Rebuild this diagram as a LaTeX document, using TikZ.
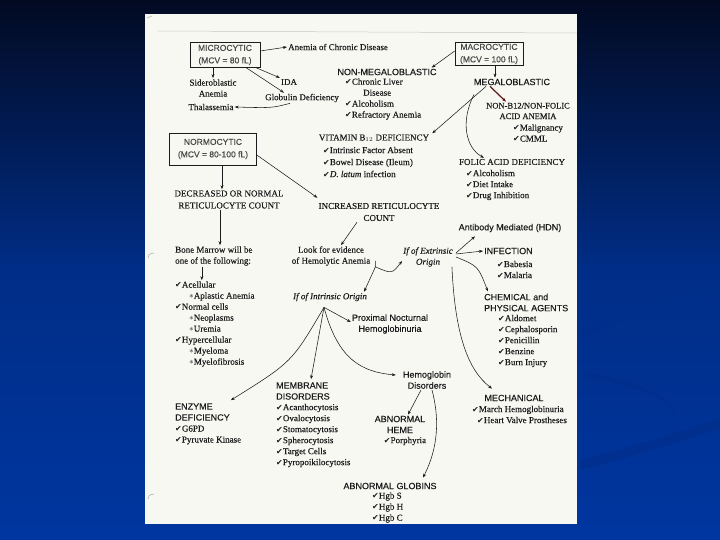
\documentclass[tikz,border=0pt]{standalone}
\usepackage{fontspec}
\setmainfont{Liberation Serif}[FakeBold=0.3]
\setsansfont{Liberation Sans}[FakeBold=0.2]
\newfontfamily\symfont{DejaVu Sans}
\usetikzlibrary{arrows.meta}
\definecolor{ink}{HTML}{1C1C1C}
\definecolor{paper}{HTML}{F8F8F3}
\definecolor{navytop}{HTML}{020A22}
\definecolor{navybot}{HTML}{0036A0}
\definecolor{swoosh}{HTML}{002E8C}
\definecolor{darkred}{HTML}{5A1616}
\newcommand{\ck}{{\symfont\fontsize{8}{11}\selectfont ✔}}
\newcommand{\st}{\hspace*{14pt}$\ast$}

\begin{document}
\begin{tikzpicture}[x=1pt,y=-1pt,>={Stealth[length=4pt,width=3pt]},
  txt/.style={font=\fontsize{9}{11}\selectfont,text=ink,inner sep=1pt,align=center},
  capt/.style={font=\fontsize{9}{12}\selectfont,text=ink,inner sep=1pt,align=center},
  hd/.style={font=\sffamily\fontsize{9}{11}\selectfont,text=ink,inner sep=1pt,align=center},
  lst/.style={txt,align=left,anchor=west},
  mcv/.style={draw=ink,line width=0.6pt,inner sep=1pt,align=center,
    font=\sffamily\fontsize{8.5}{12.5}\selectfont,text=ink!80},
  arr/.style={->,line width=0.55pt,draw=ink}]
\useasboundingbox (0,0) rectangle (720,540);
% fond de la diapositive
\shade[top color=navytop,bottom color=navybot,middle color=navybot!80!navytop] (0,0) rectangle (720,540);
\fill[swoosh,opacity=0.7] (580,330) .. controls (640,300) and (690,295) .. (720,290)
  -- (720,296) .. controls (690,302) and (640,310) .. (580,340) -- cycle;
\fill[swoosh,opacity=0.7] (585,372) .. controls (640,380) and (680,400) .. (675,418)
  .. controls (670,395) and (630,385) .. (585,378) -- cycle;
\fill[swoosh,opacity=0.7] (580,460) .. controls (640,445) and (690,428) .. (720,418)
  -- (720,428) .. controls (690,438) and (640,455) .. (580,470) -- cycle;
% feuille scannée
\fill[paper] (145,14) rectangle (577,524);
\draw[gray!45,line width=0.5pt] (158,31) -- (577,33);
\draw[gray!60,line width=0.6pt] (147,18) -- (152,16);
\draw[gray!60,line width=0.6pt] (148,258) .. controls (149,254) .. (154,253);
\draw[gray!60,line width=0.6pt] (148,499) .. controls (149,495) .. (154,494);

% microcytaire
\node[mcv,minimum width=70pt,minimum height=25pt] (micro) at (225,55) {MICROCYTIC\\(MCV = 80 fL)};
\node[txt,anchor=west] (acd) at (287,47) {Anemia of Chronic Disease};
\node[txt] (sidero) at (213,88) {Sideroblastic\\Anemia};
\node[txt] (ida) at (289,82) {IDA};
\node[txt] (globulin) at (302,98) {Globulin Deficiency};
\node[txt] (thal) at (211,107) {Thalassemia};
\draw[arr] ([yshift=4pt]micro.east) -- (acd.west);
\draw[arr] (micro.south -| sidero.north) -- (sidero.north);
\draw[arr] ([xshift=-4pt]micro.south east) -- (ida.north west);
\draw[arr] ([xshift=-14pt]micro.south east) -- ([xshift=20pt]globulin.north west);
\draw[arr] ([xshift=-12pt]globulin.south) .. controls (272,108) .. (thal.east);

% macrocytaire
\node[mcv,minimum width=68pt,minimum height=23pt] (macro) at (489,54) {MACROCYTIC\\(MCV = 100 fL)};
\node[hd] (nonmeg) at (387,72) {NON-MEGALOBLASTIC};
\node[lst] (nonmeglist) at (344,99) {\ck Chronic Liver\\\hspace*{18pt}Disease\\\ck Alcoholism\\\ck Refractory Anemia};
\node[hd] (megalo) at (512,82) {MEGALOBLASTIC};
\node[capt,font=\fontsize{8.5}{10.5}\selectfont] (nonb12) at (528,111) {NON-B12/NON-FOLIC\\ACID ANEMIA};
\node[lst] (nonb12list) at (512,133) {\ck Malignancy\\\ck CMML};
\node[capt] (vitb12) at (374,138) {VITAMIN B$_{12}$ DEFICIENCY};
\node[lst,font=\fontsize{9}{12}\selectfont] (vitlist) at (322,162) {\ck Intrinsic Factor Absent\\\ck Bowel Disease (Ileum)\\\ck \textit{D. latum} infection};
\node[capt] (folic) at (512,162) {FOLIC ACID DEFICIENCY};
\node[lst] (foliclist) at (465,185) {\ck Alcoholism\\\ck Diet Intake\\\ck Drug Inhibition};
\draw[arr] ([yshift=3pt]macro.west) -- ([xshift=-6pt]nonmeg.north east);
\draw[arr] ([xshift=6pt]macro.south) -- ([xshift=-17pt]megalo.north);
\draw[->,line width=1.2pt,darkred] ([xshift=-22pt]megalo.south) -- ([xshift=-22pt]nonb12.north);
\draw[arr] ([xshift=-26pt]megalo.south) -- ([xshift=2pt]vitb12.north east);
\draw[arr] ([xshift=-38pt,yshift=-8pt]megalo.south) .. controls (460,122) and (466,148) .. ([xshift=-28pt]folic.north);

% normocytaire
\node[mcv,minimum width=87pt,minimum height=32pt] (normo) at (213,149) {NORMOCYTIC\\(MCV = 80-100 fL)};
\node[capt] (decr) at (229,199.5) {DECREASED OR NORMAL\\RETICULOCYTE COUNT};
\node[capt] (incr) at (379,212) {INCREASED RETICULOCYTE\\COUNT};
\node[txt,align=left,anchor=west] (bone) at (174,256) {Bone Marrow will be\\one of the following:};
\node[lst] (bonelist) at (174,324) {\ck Acellular\\\st Aplastic Anemia\\\ck Normal cells\\\st Neoplasms\\\st Uremia\\\ck Hypercellular\\\st Myeloma\\\st Myelofibrosis};
\draw[arr] ([xshift=9pt]normo.south) -- ([xshift=-7pt]decr.north);
\draw[arr] ([yshift=-6pt]normo.east) -- ([yshift=4pt]incr.north west);
\draw[arr] ([xshift=-9pt]decr.south) -- ([xshift=-9pt]decr.south |- bone.north);
\draw[arr] ([xshift=-12pt]bone.south) -- ([xshift=-12pt]bone.south |- bonelist.north);

% hémolyse
\node[txt] (look) at (331,256) {Look for evidence\\of Hemolytic Anemia};
\node[txt,font=\itshape\fontsize{9}{11}\selectfont] (extr) at (428,257) {If of Extrinsic\\Origin};
\node[txt,font=\itshape\fontsize{9}{11}\selectfont] (intr) at (330,297) {If of Intrinsic Origin};
\coordinate (split) at ([xshift=4pt]look.south east);
\coordinate (hub) at ([xshift=-6pt,yshift=-5pt]intr.south);
\draw[arr] ([xshift=-22pt]incr.south) -- ([xshift=10pt]look.north);
\draw[arr] ([yshift=6pt]split) -- (split) .. controls (392,274) .. ([yshift=-4pt]extr.west);
\draw[arr] (split) -- ([xshift=-4pt]intr.north east);

% origine intrinsèque
\node[hd] (pnh) at (390,324) {Proximal Nocturnal\\Hemoglobinuria};
\node[hd,align=left,anchor=west] (enzyme) at (174,412) {ENZYME\\DEFICIENCY};
\node[lst] (enzlist) at (174,435) {\ck G6PD\\\ck Pyruvate Kinase};
\node[hd,align=left,anchor=west] (membrane) at (275,391) {MEMBRANE\\DISORDERS};
\node[lst] (memlist) at (275,435.5) {\ck Acanthocytosis\\\ck Ovalocytosis\\\ck Stomatocytosis\\\ck Spherocytosis\\\ck Target Cells\\\ck Pyropoikilocytosis};
\node[hd] (hgb) at (427,380) {Hemoglobin\\Disorders};
\node[hd] (heme) at (400,424.5) {ABNORMAL\\HEME};
\node[txt] (hemelist) at (405,441) {\ck Porphyria};
\node[hd] (globins) at (390,486) {ABNORMAL GLOBINS};
\node[lst] (globlist) at (371,507.5) {\ck Hgb S\\\ck Hgb H\\\ck Hgb C};
\draw[arr] (hub) .. controls (336,314) .. ([yshift=2pt]pnh.west);
\draw[arr] (hub) .. controls (292,362) .. ([yshift=2pt]enzyme.north east);
\draw[arr] (hub) -- ([xshift=36pt,yshift=2pt]membrane.north west);
\draw[arr] (hub) .. controls (338,360) and (362,372) .. ([xshift=-6pt,yshift=5pt]hgb.west);
\draw[arr] ([xshift=-6pt]hgb.south) -- ([xshift=8pt]heme.north);
\draw[arr] ([xshift=5pt]hgb.south) .. controls (442,428) and (434,456) .. ([xshift=33pt,yshift=4pt]globins.north);

% origine extrinsèque
\node[hd] (antibody) at (510,228) {Antibody Mediated (HDN)};
\node[hd,anchor=west] (infection) at (483,251) {INFECTION};
\node[lst] (inflist) at (496,269.5) {\ck Babesia\\\ck Malaria};
\node[hd,align=left,anchor=west] (chem) at (483,302.5) {CHEMICAL and\\PHYSICAL AGENTS};
\node[lst] (chemlist) at (497,341) {\ck Aldomet\\\ck Cephalosporin\\\ck Penicillin\\\ck Benzine\\\ck Burn Injury};
\node[hd] (mech) at (514,398) {MECHANICAL};
\node[lst] (mechlist) at (471,414.5) {\ck March Hemoglobinuria\\\hspace*{5pt}\ck Heart Valve Prostheses};
\draw[arr] ([xshift=2pt,yshift=4pt]extr.east) -- ([xshift=-35pt,yshift=-3pt]antibody.south);
\draw[arr] ([xshift=2pt,yshift=3pt]extr.east) -- (infection.west);
\draw[arr] ([xshift=2pt]extr.east) .. controls (478,266) .. ([xshift=5pt,yshift=1pt]chem.north west);
\draw[arr] ([xshift=-2pt,yshift=1pt]extr.south east) .. controls (455,335) and (468,370) .. ([xshift=-22pt,yshift=5pt]mech.north);
\end{tikzpicture}
\end{document}
